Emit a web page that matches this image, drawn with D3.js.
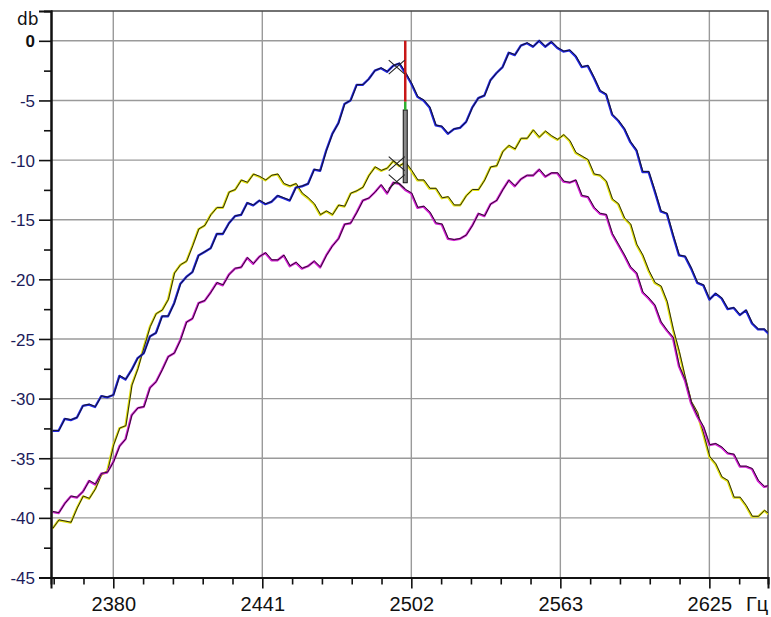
<!DOCTYPE html>
<html>
<head>
<meta charset="utf-8">
<script src="https://cdn.jsdelivr.net/npm/d3@7"></script>
<style>
  body { margin: 0; background: #fff; }
  svg { display: block; }
</style>
</head>
<body>
<div id="plotDiv"></div>
<script>
// spectrum samples, Hz (2.5 Hz step)
var freqs = [
  2355, 2357.5, 2360, 2362.5, 2365, 2367.5, 2370, 2372.5, 2375, 2377.5,
  2380, 2382.5, 2385, 2387.5, 2390, 2392.5, 2395, 2397.5, 2400, 2402.5,
  2405, 2407.5, 2410, 2412.5, 2415, 2417.5, 2420, 2422.5, 2425, 2427.5,
  2430, 2432.5, 2435, 2437.5, 2440, 2442.5, 2445, 2447.5, 2450, 2452.5,
  2455, 2457.5, 2460, 2462.5, 2465, 2467.5, 2470, 2472.5, 2475, 2477.5,
  2480, 2482.5, 2485, 2487.5, 2490, 2492.5, 2495, 2497.5, 2500, 2502.5,
  2505, 2507.5, 2510, 2512.5, 2515, 2517.5, 2520, 2522.5, 2525, 2527.5,
  2530, 2532.5, 2535, 2537.5, 2540, 2542.5, 2545, 2547.5, 2550, 2552.5,
  2555, 2557.5, 2560, 2562.5, 2565, 2567.5, 2570, 2572.5, 2575, 2577.5,
  2580, 2582.5, 2585, 2587.5, 2590, 2592.5, 2595, 2597.5, 2600, 2602.5,
  2605, 2607.5, 2610, 2612.5, 2615, 2617.5, 2620, 2622.5, 2625, 2627.5,
  2630, 2632.5, 2635, 2637.5, 2640, 2642.5, 2645, 2647.5, 2650
];

var blueDb = [
  -32.7, -32.7, -31.7, -31.8, -31.6, -30.6, -30.5, -30.7, -29.8, -29.9,
  -29.7, -28.1, -28.4, -27.6, -26.6, -26.2, -24.8, -24.5, -23.1, -23.1,
  -22.0, -20.4, -19.8, -19.4, -18.0, -17.7, -17.4, -16.2, -16.2, -15.3,
  -14.7, -14.6, -13.6, -13.8, -13.4, -13.7, -13.5, -13.0, -13.2, -13.4,
  -12.3, -12.2, -12.0, -10.8, -10.9, -9.2, -7.8, -6.9, -5.3, -5.0,
  -3.7, -3.7, -3.2, -2.5, -2.3, -2.6, -2.1, -1.9, -2.7, -3.6,
  -4.7, -5.0, -5.6, -7.1, -7.2, -7.8, -7.4, -7.3, -6.8, -5.6,
  -4.8, -4.6, -3.3, -2.7, -2.2, -1.0, -1.2, -0.4, -0.2, -0.5,
  0.0, -0.5, -0.1, -0.6, -0.9, -0.8, -1.3, -2.2, -2.1, -3.1,
  -4.2, -4.5, -6.2, -6.7, -7.4, -8.5, -9.2, -11.0, -11.0, -12.6,
  -14.3, -14.5, -16.3, -18.0, -18.1, -19.1, -20.3, -20.5, -21.7, -21.2,
  -21.6, -22.5, -22.4, -23.0, -22.6, -23.7, -24.2, -24.2, -24.7
];

var yellowDb = [
  -40.9, -40.2, -40.3, -40.4, -39.2, -38.2, -38.4, -37.6, -36.4, -36.1,
  -33.9, -32.5, -32.3, -28.9, -27.5, -25.7, -24.0, -22.9, -22.6, -21.7,
  -19.5, -18.8, -18.5, -17.2, -15.8, -15.5, -14.6, -14.0, -14.0, -12.7,
  -12.5, -11.7, -11.9, -11.2, -11.4, -11.7, -11.3, -11.2, -12.0, -12.2,
  -12.0, -12.8, -13.2, -13.7, -14.6, -14.3, -14.6, -13.8, -13.9, -12.8,
  -12.6, -12.3, -11.3, -10.6, -10.9, -10.7, -10.1, -10.5, -10.2, -10.9,
  -11.7, -11.7, -12.4, -12.4, -13.2, -13.1, -13.8, -13.8, -13.0, -12.5,
  -12.5, -11.7, -10.6, -10.5, -9.3, -8.8, -9.1, -8.2, -8.2, -7.5,
  -8.1, -7.6, -8.0, -8.3, -7.9, -8.4, -9.4, -9.7, -10.0, -11.2,
  -11.3, -11.8, -13.3, -13.7, -14.9, -15.4, -17.1, -18.0, -19.3, -20.3,
  -20.6, -21.9, -24.2, -26.1, -28.3, -30.3, -31.2, -33.0, -34.9, -35.5,
  -36.6, -36.9, -38.3, -38.3, -39.0, -39.9, -39.9, -39.4, -39.8
];

var magentaDb = [
  -39.5, -39.6, -38.8, -38.2, -38.3, -37.8, -36.9, -37.2, -36.3, -36.2,
  -35.3, -34.0, -33.4, -31.4, -30.8, -30.7, -29.1, -28.6, -27.6, -26.5,
  -26.2, -25.1, -23.6, -23.3, -22.0, -21.8, -21.1, -20.3, -20.5, -19.6,
  -19.1, -19.0, -18.2, -18.7, -18.1, -17.8, -18.4, -18.4, -18.0, -18.9,
  -18.6, -19.1, -18.9, -18.5, -19.0, -18.0, -17.2, -16.6, -15.4, -15.3,
  -14.4, -13.4, -13.2, -12.7, -12.1, -12.8, -11.9, -12.0, -12.5, -12.8,
  -14.0, -13.9, -14.4, -15.3, -15.4, -16.6, -16.7, -16.6, -16.3, -15.5,
  -14.5, -14.7, -13.7, -13.4, -12.5, -11.7, -12.2, -11.6, -11.3, -11.3,
  -10.8, -11.4, -11.1, -11.1, -11.8, -11.9, -11.7, -13.0, -13.1, -14.0,
  -14.5, -14.6, -16.2, -17.1, -18.0, -19.0, -19.5, -21.1, -21.6, -22.2,
  -23.6, -24.3, -24.9, -27.3, -28.5, -30.4, -31.5, -32.4, -33.9, -33.8,
  -34.1, -34.6, -34.7, -35.7, -35.7, -35.9, -36.9, -37.4, -37.3
];

var seriesColors = ['#e2e010', '#d41ed4', '#2024e0'];

// axis ticks
var xTickHz = [2380, 2441.25, 2502.5, 2563.75, 2625];
var xTickLabels = ['2380', '2441', '2502', '2563', '2625'];
var yTickDb = [0, -5, -10, -15, -20, -25, -30, -35, -40, -45];
var yTickLabels = ['0', '-5', '-10', '-15', '-20', '-25', '-30', '-35', '-40', '-45'];

// cursor line and markers near the carrier
var cursorHz = 2500;
var cursorRed = [0, -5.1];
var cursorGreen = [-5.1, -5.8];
var cursorBar = [-5.8, -11.9];
var markerHz = 2496.5;
var markerDb = [-2.2, -10.3, -11.8];

var W = 771, H = 617;
var mLeft = 51, mRight = 768, mTop = 11, mBottom = 577.5;

var x = d3.scaleLinear().domain([2354.4, 2649.1]).range([mLeft, mRight]);
var y = d3.scaleLinear().domain([-45, 2.5]).range([mBottom, mTop]);

var svg = d3.select('#plotDiv').append('svg')
    .attr('width', W).attr('height', H);

// grid
var grid = svg.append('g');
grid.selectAll('line.h').data(yTickDb.slice(0, -1)).enter().append('line')
    .attr('x1', mLeft).attr('x2', mRight)
    .attr('y1', function(d){ return y(d); }).attr('y2', function(d){ return y(d); })
    .attr('stroke', '#9a9a9a').attr('stroke-width', 1.4);
grid.selectAll('line.v').data(xTickHz).enter().append('line')
    .attr('x1', function(d){ return x(d); }).attr('x2', function(d){ return x(d); })
    .attr('y1', mTop).attr('y2', mBottom)
    .attr('stroke', '#9a9a9a').attr('stroke-width', 1.4);

// frame top / right
svg.append('path')
    .attr('d', 'M' + mLeft + ',' + mTop + 'H' + mRight + 'V' + mBottom)
    .attr('fill', 'none').attr('stroke', '#444').attr('stroke-width', 1.5);

svg.append('clipPath').attr('id', 'plotClip').append('rect')
    .attr('x', mLeft + 1).attr('y', mTop).attr('width', mRight - mLeft - 1).attr('height', mBottom - mTop);

var plot = svg.append('g').attr('clip-path', 'url(#plotClip)');

var line = d3.line()
    .x(function(d){ return x(d[0]); })
    .y(function(d){ return y(d[1]); });

// coloured trace with a thin dark line over it, like the analyser draws it
var allSeries = [yellowDb, magentaDb, blueDb];
allSeries.forEach(function(vals, i){
    var pts = freqs.map(function(f, k){ return [f, vals[k]]; });
    plot.append('path').datum(pts)
        .attr('d', line).attr('fill', 'none')
        .attr('stroke', seriesColors[i]).attr('stroke-width', 2.3)
        .attr('stroke-linejoin', 'round');
    plot.append('path').datum(pts)
        .attr('d', line).attr('fill', 'none')
        .attr('stroke', '#151515').attr('stroke-width', 0.9)
        .attr('transform', 'translate(0.5,-0.4)');
});

// cursor
var cx = x(cursorHz);
plot.append('rect')
    .attr('x', cx - 2).attr('y', y(cursorBar[0]))
    .attr('width', 4).attr('height', y(cursorBar[1]) - y(cursorBar[0]))
    .attr('fill', '#8a8a8a').attr('stroke', '#111').attr('stroke-width', 1);
plot.append('line')
    .attr('x1', cx).attr('x2', cx)
    .attr('y1', y(cursorRed[0])).attr('y2', y(cursorRed[1]))
    .attr('stroke', '#c81818').attr('stroke-width', 2.5);
plot.append('line')
    .attr('x1', cx).attr('x2', cx)
    .attr('y1', y(cursorGreen[0])).attr('y2', y(cursorGreen[1]))
    .attr('stroke', '#30b030').attr('stroke-width', 2.5);

markerDb.forEach(function(d){
    var mx = x(markerHz), my = y(d);
    plot.append('path')
        .attr('d', 'M' + (mx - 8) + ',' + (my - 7) + 'L' + (mx + 8) + ',' + (my + 7) +
                   'M' + (mx + 8) + ',' + (my - 7) + 'L' + (mx - 8) + ',' + (my + 7))
        .attr('stroke', '#222').attr('stroke-width', 1.1).attr('fill', 'none');
});

// axes
var minorX = [];
for (var hz = 2355.5; hz < 2649.1; hz += 12.25) {
    if (xTickHz.indexOf(hz) < 0) minorX.push(hz);
}
var minorY = yTickDb.slice(0, -1).map(function(d){ return d - 2.5; });

var fontMain = '"Liberation Sans", Arial, sans-serif';

var xMinor = svg.append('g').attr('transform', 'translate(0,' + mBottom + ')')
    .call(d3.axisBottom(x).tickValues(minorX).tickSize(7).tickFormat(''));
var xAxis = svg.append('g').attr('transform', 'translate(0,' + mBottom + ')')
    .call(d3.axisBottom(x).tickValues(xTickHz).tickSize(11)
        .tickFormat(function(d, i){ return xTickLabels[i]; }));
xAxis.selectAll('text')
    .attr('y', 33.5).attr('dy', 0)
    .style('font-family', fontMain).style('font-size', '20px').attr('fill', '#111');

var yMinor = svg.append('g').attr('transform', 'translate(' + mLeft + ',0)')
    .call(d3.axisLeft(y).tickValues(minorY).tickSize(7).tickFormat(''));
var yAxis = svg.append('g').attr('transform', 'translate(' + mLeft + ',0)')
    .call(d3.axisLeft(y).tickValues(yTickDb).tickSize(12).tickPadding(4)
        .tickFormat(function(d, i){ return yTickLabels[i]; }));
yAxis.selectAll('text')
    .attr('dy', '0.36em')
    .style('font-family', fontMain).style('font-size', '17px')
    .attr('fill', function(d){ return d === 0 ? '#111' : '#1c1c5a'; })
    .style('font-weight', function(d){ return d === 0 ? 'bold' : 'normal'; });

[xMinor, xAxis, yMinor, yAxis].forEach(function(g){
    g.selectAll('.tick line').attr('stroke', '#111').attr('stroke-width', 1.6);
    g.select('.domain').attr('stroke', '#111').attr('stroke-width', 2);
});

// unit labels
svg.append('text').attr('x', 17).attr('y', 25)
    .style('font-family', '"DejaVu Sans", sans-serif').style('font-size', '17px')
    .attr('fill', '#111').text('db');
svg.append('text').attr('x', 746).attr('y', 611)
    .style('font-family', fontMain).style('font-size', '20px')
    .attr('fill', '#111').text('Гц');
</script>
</body>
</html>
